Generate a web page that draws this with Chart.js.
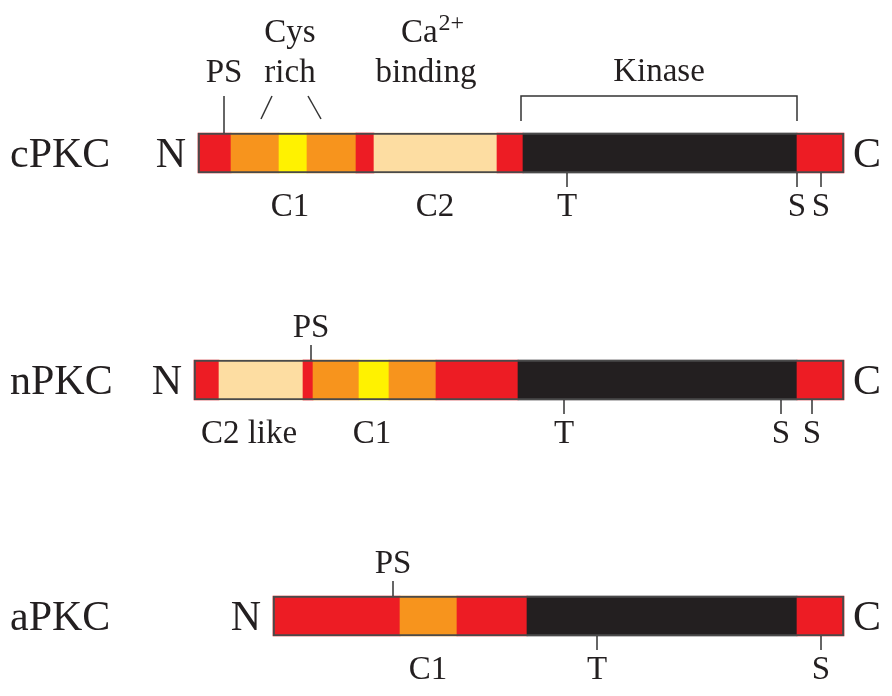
<!DOCTYPE html>
<html>
<head>
<meta charset="utf-8">
<script src="https://cdn.jsdelivr.net/npm/chart.js@4/dist/chart.umd.min.js"></script>
<style>
  html, body { margin: 0; padding: 0; background: #fff; }
  #wrap { width: 892px; height: 696px; }
</style>
</head>
<body>
<div id="wrap"><canvas id="pkcChart" width="892" height="696"></canvas></div>
<script>
// rows (isoforms) and where they sit on the vertical axis
const isoforms = ['cPKC', 'nPKC', 'aPKC'];
const rowCenters = [153, 380, 616];

// domain boundaries along the horizontal axis, and the domain type of each segment
const cpkcEdges = [198, 231, 279, 307, 356, 374, 497, 523, 797, 844];
const cpkcTypes = ['V', 'C1', 'C1core', 'C1', 'V', 'C2', 'V', 'kinase', 'V'];
const npkcEdges = [194, 219, 303, 313, 359, 389, 436, 518, 797, 844];
const npkcTypes = ['V', 'C2', 'V', 'C1', 'C1core', 'C1', 'V', 'kinase', 'V'];
const apkcEdges = [273, 400, 457, 527, 797, 844];
const apkcTypes = ['V', 'C1', 'V', 'kinase', 'V'];

// pseudosubstrate positions
const psPositions = [224, 311, 393];

// phosphorylation sites below each bar
const cpkcSites = [567, 797, 821];
const cpkcSiteLabels = ['T', 'S', 'S'];
const npkcSites = [564, 781, 812];
const npkcSiteLabels = ['T', 'S', 'S'];
const apkcSites = [597, 821];
const apkcSiteLabels = ['T', 'S'];

// domain names under each bar
const cpkcDomainNames = ['C1', 'C2'];
const cpkcDomainAt = [290, 435];
const npkcDomainNames = ['C2 like', 'C1'];
const npkcDomainAt = [249, 372];
const apkcDomainNames = ['C1'];
const apkcDomainAt = [428];

// cPKC headings above the bar
const cysRichAt = 290;
const caBindingAt = 432;
const kinaseSpan = [521, 797];

const domainColors = {
  V: '#ED1C24',
  C1: '#F7941D',
  C1core: '#FFF200',
  C2: '#FDDDA2',
  kinase: '#231F20'
};

const allEdges = [cpkcEdges, npkcEdges, apkcEdges];
const allTypes = [cpkcTypes, npkcTypes, apkcTypes];
const allSites = [cpkcSites, npkcSites, apkcSites];
const allSiteLabels = [cpkcSiteLabels, npkcSiteLabels, apkcSiteLabels];
const allDomainNames = [cpkcDomainNames, npkcDomainNames, apkcDomainNames];
const allDomainAt = [cpkcDomainAt, npkcDomainAt, apkcDomainAt];

const segData = [];
const segColors = [];
const outlineData = [];
allEdges.forEach((edges, r) => {
  for (let i = 0; i < edges.length - 1; i++) {
    segData.push({ y: rowCenters[r], x: [edges[i], edges[i + 1]] });
    segColors.push(domainColors[allTypes[r][i]]);
  }
  outlineData.push({ y: rowCenters[r], x: [edges[0], edges[edges.length - 1]] });
});

const INK = '#231F20';
const SERIF = '"Liberation Serif", "DejaVu Serif", serif';
const SMALL = 33;

// labels, ticks and brackets drawn in data coordinates
const annotations = {
  id: 'annotations',
  afterDatasetsDraw(chart) {
    const { ctx, scales: { x, y } } = chart;
    const px = v => x.getPixelForValue(v);
    const py = v => y.getPixelForValue(v);

    const line = (x1, y1, x2, y2) => {
      ctx.beginPath();
      ctx.moveTo(px(x1), py(y1));
      ctx.lineTo(px(x2), py(y2));
      ctx.stroke();
    };
    const text = (s, vx, vy, size, align) => {
      ctx.font = size + 'px ' + SERIF;
      ctx.textAlign = align || 'center';
      ctx.fillText(s, px(vx), py(vy));
    };

    ctx.save();
    ctx.strokeStyle = '#333';
    ctx.lineWidth = 1.5;
    ctx.fillStyle = INK;
    ctx.textBaseline = 'alphabetic';

    isoforms.forEach((name, r) => {
      const yc = rowCenters[r];
      const top = yc - 20, bottom = yc + 20;
      const edges = allEdges[r];
      const left = edges[0], right = edges[edges.length - 1];

      text(name, 10, yc + 14, 42, 'left');
      text('N', left - 12, yc + 14, 42, 'right');
      text('C', right + 9, yc + 14, 42, 'left');

      // phosphorylation sites
      allSites[r].forEach((s, i) => {
        line(s, bottom, s, bottom + 14);
        text(allSiteLabels[r][i], s, bottom + 43, SMALL);
      });
      allDomainNames[r].forEach((d, i) => {
        text(d, allDomainAt[r][i], bottom + 43, SMALL);
      });

      // pseudosubstrate
      const ps = psPositions[r];
      if (r === 0) {
        line(ps, top, ps, top - 37);
        text('PS', ps, top - 51, SMALL);
      } else {
        line(ps, top, ps, top - 15);
        text('PS', ps, top - 23, SMALL);
      }
    });

    // cPKC headings
    text('Cys', cysRichAt, 42, SMALL);
    text('rich', cysRichAt, 82, SMALL);
    line(cysRichAt - 29, 119, cysRichAt - 18, 96);
    line(cysRichAt + 18, 96, cysRichAt + 31, 119);

    ctx.font = SMALL + 'px ' + SERIF;
    const wCa = ctx.measureText('Ca').width;
    ctx.font = '24px ' + SERIF;
    const wSup = ctx.measureText('2+').width;
    const caStart = px(caBindingAt) - (wCa + wSup) / 2;
    ctx.textAlign = 'left';
    ctx.font = SMALL + 'px ' + SERIF;
    ctx.fillText('Ca', caStart, py(42));
    ctx.font = '24px ' + SERIF;
    ctx.fillText('2+', caStart + wCa + 1, py(30));
    text('binding', caBindingAt - 6, 82, SMALL);

    text('Kinase', (kinaseSpan[0] + kinaseSpan[1]) / 2, 81, SMALL);
    ctx.beginPath();
    ctx.moveTo(px(kinaseSpan[0]), py(121));
    ctx.lineTo(px(kinaseSpan[0]), py(96));
    ctx.lineTo(px(kinaseSpan[1]), py(96));
    ctx.lineTo(px(kinaseSpan[1]), py(121));
    ctx.stroke();

    ctx.restore();
  }
};

new Chart(document.getElementById('pkcChart').getContext('2d'), {
  type: 'bar',
  data: {
    datasets: [
      {
        label: 'outline',
        data: outlineData,
        backgroundColor: 'rgba(0,0,0,0)',
        borderColor: '#4a4a4a',
        borderWidth: 1.5,
        borderSkipped: false,
        barThickness: 40,
        grouped: false,
        order: 0
      },
      {
        label: 'domains',
        data: segData,
        backgroundColor: segColors,
        borderWidth: 0,
        barThickness: 40,
        grouped: false,
        order: 1
      }
    ]
  },
  options: {
    indexAxis: 'y',
    responsive: false,
    animation: false,
    layout: { padding: 0 },
    plugins: { legend: { display: false }, tooltip: { enabled: false } },
    scales: {
      x: { type: 'linear', min: 0, max: 892, display: false },
      y: { type: 'linear', min: 0, max: 696, reverse: true, offset: false, display: false }
    }
  },
  plugins: [annotations]
});
</script>
</body>
</html>
